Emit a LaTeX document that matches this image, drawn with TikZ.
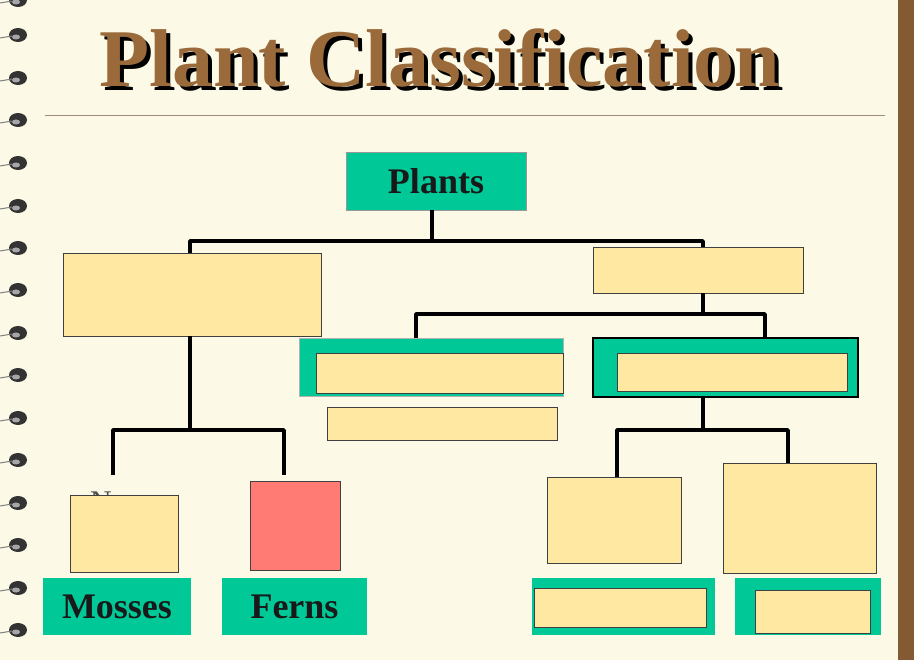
\documentclass[tikz,border=0pt]{standalone}
\usepackage{fontspec}
\setmainfont{Liberation Serif}
\begin{document}
\begin{tikzpicture}[x=1pt,y=-1pt,
  yel/.style={draw=black!75,line width=0.8pt,fill=boxy},
  grn/.style={fill=boxg},
  con/.style={line width=3.8pt,line join=round},
  lab/.style={font=\bfseries\fontsize{36}{36}\selectfont,text=black!90}]
\definecolor{paper}{HTML}{FCFAE6}
\definecolor{boxy}{HTML}{FFE9A2}
\definecolor{boxg}{HTML}{00C896}
\definecolor{boxr}{HTML}{FF7B73}
\definecolor{ttl}{HTML}{9A6A3A}
\useasboundingbox (0,0) rectangle (914,660);
\fill[paper] (0,0) rectangle (914,660);
\fill[ttl!85!black] (898,0) rectangle (914,660);
% spiral rings
\foreach \y in {0,35,78,120,163,206,248,290,333,375,418,460,503,545,588,630}{
  \fill[black!80] (18,\y) ellipse (9pt and 7pt);
  \fill[black!35] (16,\y+2) ellipse (4pt and 2.5pt);
  \draw[black!50,line width=1pt] (0,\y+3) -- (12,\y+1);
}
% title (shadow + face)
\node[font=\bfseries\fontsize{82}{82}\selectfont,text=black] at (444,62) {Plant Classification};
\node (title) [font=\bfseries\fontsize{82}{82}\selectfont,text=ttl] at (440,58) {Plant Classification};
\draw[ttl!60!black!60,line width=0.8pt] (45,115) -- (885,115);
% boxes
\node (plants) [grn,draw=black!40,minimum width=180pt,minimum height=58pt,lab] at (436,181) {Plants};
\node (lbig) [yel,minimum width=258pt,minimum height=83pt] at (192,294.5) {};
\node (rtop) [yel,minimum width=210pt,minimum height=46pt] at (698,270) {};
\node (ga) [grn,draw=black!30,minimum width=264pt,minimum height=58pt] at (431,367) {};
\node[yel,minimum width=247pt,minimum height=40pt] at (439.5,373) {};
\node (gb) [grn,draw=black,line width=1.2pt,minimum width=265pt,minimum height=59pt] at (725.5,367.5) {};
\node[yel,minimum width=230pt,minimum height=38pt] at (732,372) {};
\node (ysm) [yel,minimum width=230pt,minimum height=33pt] at (442,423.5) {};
\node[font=\fontsize{30}{30}\selectfont,text=black!70] at (101,502) {N};
\node (mb) [yel,minimum width=108pt,minimum height=77pt] at (124,533.5) {};
\node (rb) [draw=black!75,line width=0.8pt,fill=boxr,minimum width=90pt,minimum height=89pt] at (295,525.5) {};
\node (mosses) [grn,minimum width=148pt,minimum height=57pt,lab] at (117,606.5) {Mosses};
\node (ferns) [grn,minimum width=145pt,minimum height=57pt,lab] at (294.5,606.5) {Ferns};
\node (y3) [yel,minimum width=134pt,minimum height=86pt] at (614,520) {};
\node (y4) [yel,minimum width=153pt,minimum height=110pt] at (799.5,518) {};
\node (g3) [grn,minimum width=183pt,minimum height=57pt] at (623.5,606.5) {};
\node[yel,minimum width=172pt,minimum height=39pt] at (620,607.5) {};
\node (g4) [grn,minimum width=146pt,minimum height=57pt] at (808,606.5) {};
\node[yel,minimum width=115pt,minimum height=43pt] at (812.5,611.5) {};
% connectors
\coordinate (j1) at (432,241);
\draw[con] (plants.south -| j1) -- (j1);
\draw[con] (lbig.north -| 190,0) -- (190,241) -- (703,241) -- (rtop.north -| 703,0);
\draw[con] (rtop.south -| 703,0) -- (703,314);
\draw[con] (416,338) -- (416,314) -- (765,314) -- (765,338);
\draw[con] (lbig.south -| 190,0) -- (190,430);
\draw[con] (113,475) -- (113,430) -- (284,430) -- (284,475);
\draw[con] (gb.south -| 703,0) -- (703,430);
\draw[con] (y3.north -| 617,0) -- (617,430) -- (788,430) -- (y4.north -| 788,0);
\end{tikzpicture}
\end{document}
